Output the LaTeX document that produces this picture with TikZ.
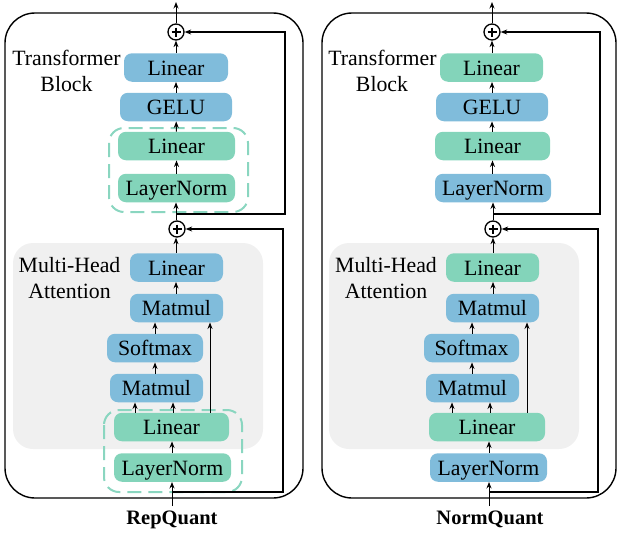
\documentclass[tikz,border=0pt]{standalone}
\usepackage{fontspec}
\setmainfont{Liberation Serif}
\usetikzlibrary{arrows.meta}
\definecolor{qblue}{RGB}{128,188,219}
\definecolor{qgreen}{RGB}{131,212,186}
\definecolor{qdash}{RGB}{138,214,192}
\definecolor{qgray}{RGB}{240,240,240}
\tikzset{
  blk/.style={rectangle, rounded corners=8pt, minimum height=28.5pt, inner sep=0pt,
    text height=15pt, text depth=0pt, font=\fontsize{21.8}{26}\selectfont},
  bblk/.style={blk, fill=qblue},
  gblk/.style={blk, fill=qgreen},
  addop/.style={circle, draw, line width=1.3pt, fill=white, minimum size=16pt, inner sep=0pt,
    path picture={\draw[line width=1.2pt] ([yshift=-3.5pt]path picture bounding box.north) -- ([yshift=3.5pt]path picture bounding box.south)
      ([xshift=3.5pt]path picture bounding box.west) -- ([xshift=-3.5pt]path picture bounding box.east);}},
  arr/.style={-{Stealth[length=6.5pt,width=5pt]}, line width=1pt},
  resid/.style={arr, line width=1.2pt},
  dashbox/.style={draw=qdash, line width=2pt, dash pattern=on 14pt off 7pt, rounded corners=15pt},
  mhabox/.style={fill=qgray, rounded corners=20pt},
  outerbox/.style={draw, line width=1.4pt, rounded corners=30pt},
  lbl/.style={anchor=base, inner sep=0pt, font=\fontsize{21.8}{26}\selectfont},
  captext/.style={anchor=base, inner sep=0pt, font=\fontsize{20.5}{26}\selectfont\bfseries}
}
\begin{document}
\begin{tikzpicture}[x=1pt, y=-1pt]
\useasboundingbox (0,0) rectangle (618,533);

% ================= RepQuant =================
\draw[outerbox] (5,13) rectangle (303,498);
\fill[mhabox] (13,243) rectangle (263,449);
\draw[dashbox] (109,128) rectangle (248,212);
\draw[dashbox] (104,410) rectangle (242,492);

\node[lbl] (lT1) at (66.5,65) {Transformer};
\node[lbl] (lT2) at (66.5,91) {Block};
\node[lbl] (lM1) at (69.5,272) {Multi-Head};
\node[lbl] (lM2) at (69.5,298) {Attention};

\node[addop] (lP2) at (176,32) {};
\node[bblk, minimum width=104pt] (lL3) at (176,67.5) {Linear};
\node[bblk, minimum width=112pt] (lGe) at (176,107) {GELU};
\node[gblk, minimum width=117pt] (lL2) at (176.5,146) {Linear};
\node[gblk, minimum width=117pt] (lN2) at (176.5,188) {LayerNorm};
\node[addop] (lP1) at (177,229) {};
\node[bblk, minimum width=93pt] (lAL) at (176.5,267.5) {Linear};
\node[bblk, minimum width=93pt] (lM2b) at (176.5,308) {Matmul};
\node[bblk, minimum width=96pt] (lSm) at (155,348) {Softmax};
\node[bblk, minimum width=93pt] (lM1b) at (156.5,388) {Matmul};
\node[gblk, minimum width=115pt] (lAQ) at (171.5,427) {Linear};
\node[gblk, minimum width=117pt] (lN1) at (172.5,467.5) {LayerNorm};
\node[captext] (lCap) at (172,524) {RepQuant};

\coordinate (lTop) at (176,2);
\coordinate (lIn) at (172,506);
\coordinate (lR1) at (172,492);
\coordinate (lR2) at (176,214);

\draw[arr] (lIn) -- (lN1.south -| lIn);
\draw[arr] (lN1.north -| 172,0) -- (lAQ.south -| 172,0);
\draw[arr] (lAQ.north -| 135,0) -- (lM1b.south -| 135,0);
\draw[arr] (lAQ.north -| 173,0) -- (lM1b.south -| 173,0);
\draw[arr] (lAQ.north -| 210,0) -- (lM2b.south -| 210,0);
\draw[arr] (lM1b.north -| 155,0) -- (lSm.south -| 155,0);
\draw[arr] (lSm.north -| 155,0) -- (lM2b.south -| 155,0);
\draw[arr] (lM2b.north -| 176,0) -- (lAL.south -| 176,0);
\draw[arr] (lAL.north -| 176,0) -- (lP1.south -| 176,0);
\draw[arr] (lP1.north -| 176,0) -- (lN2.south -| 176,0);
\draw[arr] (lN2) -- (lL2);
\draw[arr] (lL2) -- (lGe);
\draw[arr] (lGe) -- (lL3);
\draw[arr] (lL3) -- (lP2);
\draw[arr] (lP2) -- (lTop);
\draw[resid] (lR1) -| (lP1.east -| 283,0) -- (lP1.east);
\draw[resid] (lR2) -| (lP2.east -| 285,0) -- (lP2.east);

% ================= NormQuant =================
\draw[outerbox] (322,13) rectangle (616,498);
\fill[mhabox] (329,243) rectangle (579,449);

\node[lbl] (rT1) at (382.5,65) {Transformer};
\node[lbl] (rT2) at (382,91) {Block};
\node[lbl] (rM1) at (386,272) {Multi-Head};
\node[lbl] (rM2) at (386,298) {Attention};

\node[addop] (rP2) at (492,32) {};
\node[gblk, minimum width=103pt] (rL3) at (491.5,67.5) {Linear};
\node[bblk, minimum width=112pt] (rGe) at (492,107) {GELU};
\node[gblk, minimum width=115pt] (rL2) at (492.5,146) {Linear};
\node[bblk, minimum width=116pt] (rN2) at (493,188) {LayerNorm};
\node[addop] (rP1) at (493,229) {};
\node[gblk, minimum width=93pt] (rAL) at (492.5,267.5) {Linear};
\node[bblk, minimum width=93pt] (rM2b) at (492.5,308) {Matmul};
\node[bblk, minimum width=95pt] (rSm) at (471.5,348) {Softmax};
\node[bblk, minimum width=93pt] (rM1b) at (472.5,388) {Matmul};
\node[gblk, minimum width=116pt] (rAQ) at (487,427) {Linear};
\node[bblk, minimum width=117pt] (rN1) at (488.5,467.5) {LayerNorm};
\node[captext] (rCap) at (490,524) {NormQuant};

\coordinate (rTop) at (492,2);
\coordinate (rIn) at (489,506);
\coordinate (rR1) at (489,492);
\coordinate (rR2) at (493,214);

\draw[arr] (rIn) -- (rN1.south -| rIn);
\draw[arr] (rN1.north -| 489,0) -- (rAQ.south -| 489,0);
\draw[arr] (rAQ.north -| 452,0) -- (rM1b.south -| 452,0);
\draw[arr] (rAQ.north -| 490,0) -- (rM1b.south -| 490,0);
\draw[arr] (rAQ.north -| 527,0) -- (rM2b.south -| 527,0);
\draw[arr] (rM1b.north -| 472,0) -- (rSm.south -| 472,0);
\draw[arr] (rSm.north -| 472,0) -- (rM2b.south -| 472,0);
\draw[arr] (rM2b.north -| 493,0) -- (rAL.south -| 493,0);
\draw[arr] (rAL.north -| 493,0) -- (rP1.south -| 493,0);
\draw[arr] (rP1.north -| 493,0) -- (rN2.south -| 493,0);
\draw[arr] (rN2.north -| 492.5,0) -- (rL2.south -| 492.5,0);
\draw[arr] (rL2.north -| 492,0) -- (rGe.south -| 492,0);
\draw[arr] (rGe.north -| 492,0) -- (rL3.south -| 492,0);
\draw[arr] (rL3.north -| 492,0) -- (rP2.south);
\draw[arr] (rP2) -- (rTop);
\draw[resid] (rR1) -| (rP1.east -| 598,0) -- (rP1.east);
\draw[resid] (rR2) -| (rP2.east -| 600,0) -- (rP2.east);
\end{tikzpicture}
\end{document}
